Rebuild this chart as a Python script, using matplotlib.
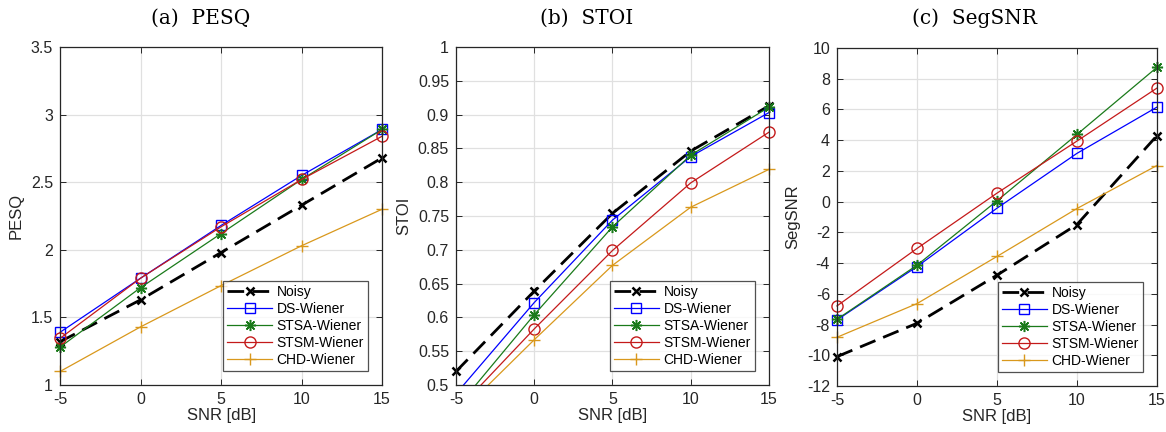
import numpy as np
import matplotlib
matplotlib.use('Agg')
import matplotlib.pyplot as plt
from matplotlib.transforms import Bbox, TransformedBbox

# SNR values (x axis)
snr = [-5, 0, 5, 10, 15]
methods = ['Noisy', 'DS-Wiener', 'STSA-Wiener', 'STSM-Wiener', 'CHD-Wiener']

# PESQ
pesq_noisy = [1.32, 1.63, 1.98, 2.33, 2.68]
pesq_ds = [1.39, 1.79, 2.18, 2.55, 2.89]
pesq_stsa = [1.28, 1.72, 2.12, 2.52, 2.89]
pesq_stsm = [1.345, 1.79, 2.17, 2.52, 2.84]
pesq_chd = [1.10, 1.43, 1.735, 2.03, 2.30]

# STOI
stoi_noisy = [0.52, 0.639, 0.754, 0.846, 0.913]
stoi_ds = [0.487, 0.622, 0.744, 0.838, 0.903]
stoi_stsa = [0.465, 0.604, 0.734, 0.840, 0.911]
stoi_stsm = [0.461, 0.583, 0.699, 0.799, 0.874]
stoi_chd = [0.453, 0.567, 0.677, 0.763, 0.819]

# SegSNR
seg_noisy = [-10.09, -7.92, -4.79, -1.49, 4.29]
seg_ds = [-7.70, -4.23, -0.43, 3.14, 6.15]
seg_stsa = [-7.66, -4.14, 0.05, 4.37, 8.74]
seg_stsm = [-6.79, -3.05, 0.55, 3.94, 7.39]
seg_chd = [-8.83, -6.64, -3.57, -0.45, 2.35]

plt.rcParams['font.family'] = ['Liberation Sans', 'DejaVu Sans']
plt.rcParams['axes.unicode_minus'] = False

styles = [
    dict(color='black', linestyle=(0, (6, 3)), linewidth=2.0, marker='x', markersize=6, markeredgewidth=1.8),
    dict(color='#0000ff', linestyle='-', linewidth=0.9, marker='s', markersize=7, markerfacecolor='none'),
    dict(color='#1a7a1a', linestyle='-', linewidth=0.9, marker=(8, 2, 0), markersize=8, markeredgewidth=1.1),
    dict(color='#c41a1a', linestyle='-', linewidth=0.9, marker='o', markersize=8, markerfacecolor='none'),
    dict(color='#d9981c', linestyle='-', linewidth=0.9, marker='+', markersize=9),
]

panels = [
    ([0.0515, 0.1088, 0.2762, 0.7824], [pesq_noisy, pesq_ds, pesq_stsa, pesq_stsm, pesq_chd],
     'PESQ', (1, 3.5), np.arange(1, 3.51, 0.5), ['1', '1.5', '2', '2.5', '3', '3.5'], '(a)  PESQ', 0.172),
    ([0.3911, 0.1088, 0.2684, 0.7824], [stoi_noisy, stoi_ds, stoi_stsa, stoi_stsm, stoi_chd],
     'STOI', (0.5, 1), np.arange(0.5, 1.001, 0.05),
     ['0.5', '0.55', '0.6', '0.65', '0.7', '0.75', '0.8', '0.85', '0.9', '0.95', '1'], '(b)  STOI', 0.503),
    ([0.7178, 0.1065, 0.2744, 0.7824], [seg_noisy, seg_ds, seg_stsa, seg_stsm, seg_chd],
     'SegSNR', (-12, 10), np.arange(-12, 10.1, 2), None, '(c)  SegSNR', 0.836),
]

fig = plt.figure(figsize=(11.66, 4.32), dpi=100)

for rect, series, ylab, ylim, yticks, yticklabels, title, tx in panels:
    ax = fig.add_axes(rect)
    # clip only top/bottom, let edge markers show fully left/right
    clip = TransformedBbox(Bbox([[-0.05, 0], [1.05, 1]]), ax.transAxes)
    for name, vals, st in zip(methods, series, styles):
        ln, = ax.plot(snr, vals, label=name, **st)
        ln.set_clip_box(clip)
    ax.set_xlim(-5, 15)
    ax.set_ylim(*ylim)
    ax.set_xticks(snr)
    ax.set_yticks(yticks)
    if yticklabels is not None:
        ax.set_yticklabels(yticklabels)
    else:
        ax.set_yticklabels([str(int(v)) for v in yticks])
    ax.grid(True, color='#e0e0e0', linewidth=0.9)
    ax.set_axisbelow(True)
    ax.tick_params(direction='in', top=True, right=True, labelsize=11.5,
                   colors='#262626', length=4, width=0.7, pad=5)
    for sp in ax.spines.values():
        sp.set_color('#262626')
        sp.set_linewidth(0.9)
    ax.set_xlabel('SNR [dB]', fontsize=12, color='#262626', labelpad=1)
    ax.set_ylabel(ylab, fontsize=12, color='#262626', labelpad=5)
    leg = ax.legend(loc='lower right', fontsize=10, frameon=True, fancybox=False,
                    edgecolor='#262626', borderaxespad=1.0, handlelength=3.2,
                    labelspacing=0.22, borderpad=0.3, handletextpad=0.35)
    leg.get_frame().set_linewidth(0.9)
    fig.text(tx, 0.957, title, ha='center', va='center', fontsize=14.5,
             family=['DejaVu Serif'])

plt.savefig('out.png', dpi=100)
